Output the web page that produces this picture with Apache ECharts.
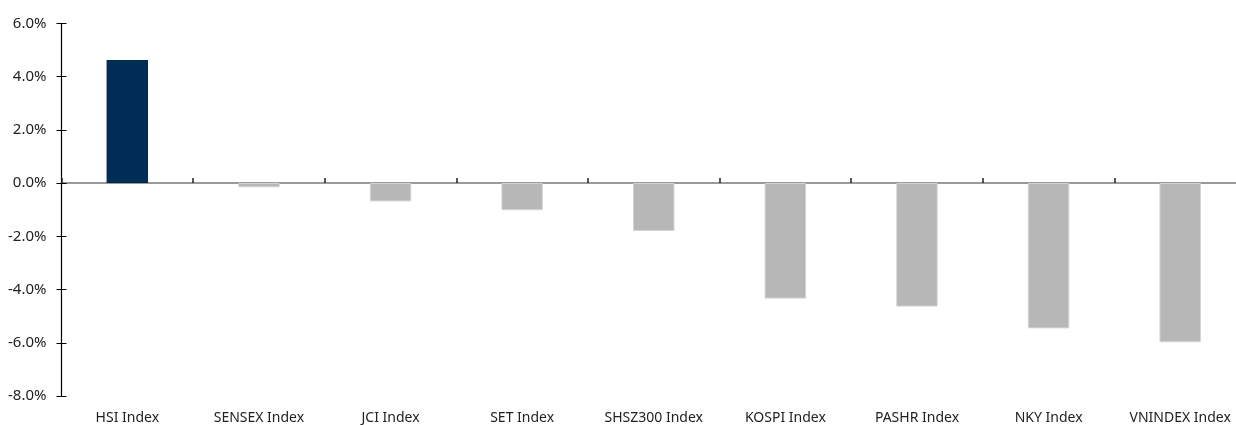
<!DOCTYPE html>
<html>
<head>
<meta charset="utf-8">
<script src="https://cdn.jsdelivr.net/npm/echarts@6/dist/echarts.min.js"></script>
<style>
  html, body { margin: 0; padding: 0; background: #ffffff; overflow: hidden; }
  #wrap { width: 1236px; height: 425px; overflow: hidden; }
  /* plot runs slightly past the right edge, so the canvas is wider than the view */
  #chart { width: 1246px; height: 425px; }
</style>
</head>
<body>
<div id="wrap"><div id="chart"></div></div>
<script>
// Index returns, % change
const categories = ['HSI Index', 'SENSEX Index', 'JCI Index', 'SET Index', 'SHSZ300 Index',
  'KOSPI Index', 'PASHR Index', 'NKY Index', 'VNINDEX Index'];
const returns = [4.62, -0.16, -0.69, -1.02, -1.80, -4.34, -4.64, -5.46, -5.98];
const highlightIndex = 'HSI Index';

const navy = '#002D56';
const grey = '#B7B7B7';
const fontFamily = '"Noto Sans", "Open Sans", sans-serif';

const chart = echarts.init(document.getElementById('chart'), null, { renderer: 'canvas' });

chart.setOption({
  animation: false,
  grid: { left: 61.5, top: 23.3, right: 0, bottom: 25.5, containLabel: false },
  xAxis: [
    {
      // axis line crossing at zero with upward ticks between categories
      type: 'category',
      data: categories,
      position: 'bottom',
      axisLine: { onZero: true, lineStyle: { color: '#7a7a7a', width: 1.5 } },
      axisTick: { show: true, inside: true, length: 5, alignWithLabel: false,
        lineStyle: { color: '#222', width: 1.5 } },
      axisLabel: { show: false },
      splitLine: { show: false }
    },
    {
      // category names along the bottom edge
      type: 'category',
      data: categories,
      position: 'bottom',
      axisLine: { show: false, onZero: false },
      axisTick: { show: false },
      axisLabel: { show: true, margin: 15, color: '#222', fontSize: 14, fontFamily: fontFamily,
        interval: 0 },
      splitLine: { show: false }
    }
  ],
  yAxis: [
    {
      type: 'value',
      min: -8,
      max: 6,
      interval: 2,
      axisLine: { show: true, lineStyle: { color: '#000', width: 1.2 } },
      axisTick: { show: true, length: 5, lineStyle: { color: '#000' } },
      axisLabel: { margin: 15, color: '#222', fontSize: 15, fontFamily: fontFamily,
        formatter: v => v.toFixed(1) + '%' },
      splitLine: { show: false }
    },
    {
      // inner half of the cross-through ticks
      type: 'value',
      min: -8,
      max: 6,
      interval: 2,
      position: 'left',
      axisLine: { show: false },
      axisTick: { show: true, inside: true, length: 5, lineStyle: { color: '#000' } },
      axisLabel: { show: false },
      splitLine: { show: false }
    }
  ],
  series: [
    {
      type: 'bar',
      xAxisIndex: 0,
      yAxisIndex: 0,
      barWidth: '31.5%',
      data: returns.map((v, i) => ({
        value: v,
        itemStyle: categories[i] === highlightIndex
          ? { color: navy }
          : { color: grey, borderColor: '#d4d4d4', borderWidth: 1 }
      }))
    }
  ]
});
</script>
</body>
</html>
